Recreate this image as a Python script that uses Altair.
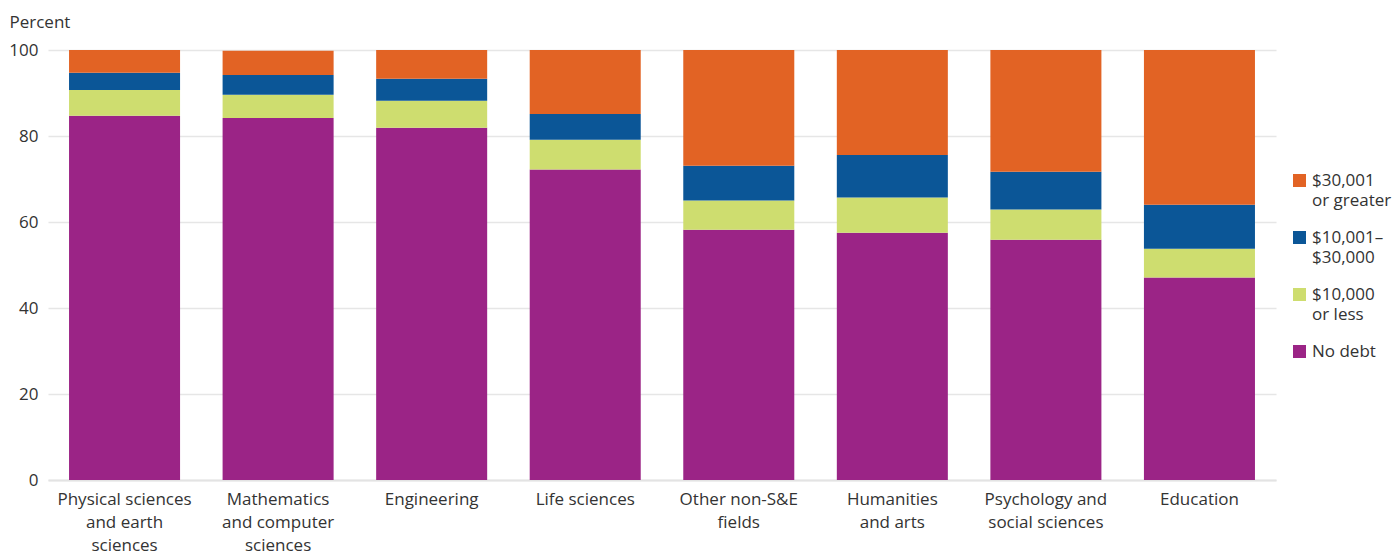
import altair as alt
import pandas as pd

# Fields of study (line breaks mark where the axis label wraps)
fields = [
    "Physical sciences\nand earth\nsciences",
    "Mathematics\nand computer\nsciences",
    "Engineering",
    "Life sciences",
    "Other non-S&E\nfields",
    "Humanities\nand arts",
    "Psychology and\nsocial sciences",
    "Education",
]

# Debt levels, listed as in the legend (top to bottom)
levels = ["$30,001\nor greater", "$10,001\u2013\n$30,000", "$10,000\nor less", "No debt"]
level_colors = ["#E26324", "#0B5697", "#CEDD6F", "#9B2486"]

# Percent of graduates in each debt level, per field
no_debt = [84.7, 84.2, 81.9, 72.2, 58.2, 57.5, 55.9, 47.1]
up_to_10k = [6.0, 5.4, 6.3, 6.9, 6.8, 8.2, 7.0, 6.7]
from_10k_to_30k = [4.0, 4.6, 5.1, 6.0, 8.1, 9.9, 8.8, 10.2]
over_30k = [5.3, 5.6, 6.7, 14.9, 26.9, 24.4, 28.3, 36.0]

series = [
    (levels[3], no_debt, 0),
    (levels[2], up_to_10k, 1),
    (levels[1], from_10k_to_30k, 2),
    (levels[0], over_30k, 3),
]

rows = []
for level, values, stack_rank in series:
    for field, value in zip(fields, values):
        rows.append({"field": field, "level": level, "pct": value, "rank": stack_rank})
df = pd.DataFrame(rows)

FONT = "Open Sans"
SIZE = 17
TEXT = "#333333"

chart = (
    alt.Chart(df)
    .mark_bar()
    .encode(
        x=alt.X(
            "field:N",
            sort=fields,
            scale=alt.Scale(paddingInner=0.277, paddingOuter=0.137),
            axis=alt.Axis(
                title=None,
                labelAngle=0,
                labelExpr="split(datum.label, '\\n')",
                labelFont=FONT,
                labelFontSize=SIZE,
                labelColor=TEXT,
                labelLineHeight=23,
                labelPadding=11,
                labelBaseline="top",
                ticks=False,
                domainColor="#e3e3e3",
                domainWidth=2,
                grid=False,
            ),
        ),
        y=alt.Y(
            "pct:Q",
            stack="zero",
            scale=alt.Scale(domain=[0, 100], nice=False),
            axis=alt.Axis(
                title="Percent",
                values=[0, 20, 40, 60, 80, 100],
                titleAngle=0,
                titleAlign="left",
                titleBaseline="alphabetic",
                titleX=-39,
                titleY=-23,
                titleFont=FONT,
                titleFontSize=SIZE,
                titleFontWeight="normal",
                titleColor=TEXT,
                labelFont=FONT,
                labelFontSize=SIZE,
                labelColor=TEXT,
                labelPadding=10,
                ticks=False,
                domain=False,
                gridColor="#e6e6e6",
                gridWidth=1.5,
            ),
        ),
        color=alt.Color(
            "level:N",
            scale=alt.Scale(domain=levels, range=level_colors),
            legend=alt.Legend(
                title=None,
                orient="none",
                legendX=1243,
                legendY=122,
                padding=0,
                gridAlign="all",
                symbolType="square",
                symbolSize=169,
                symbolStrokeWidth=0,
                symbolOpacity=1,
                labelExpr="split(datum.label, '\\n')",
                labelFont=FONT,
                labelFontSize=SIZE,
                labelColor=TEXT,
                labelBaseline="middle",
                labelOffset=4,
                labelLimit=200,
                rowPadding=19,
            ),
        ),
        order=alt.Order("rank:Q", sort="ascending"),
    )
    .properties(
        width=1228,
        height=430,
        padding={"left": 48, "top": 50, "right": 116, "bottom": 73},
        autosize=alt.AutoSizeParams(type="none"),
    )
    .configure(background="white", style={"guide-label": {"lineHeight": 20}})
    .configure_view(stroke=None, strokeWidth=0)
)

chart.save("out.html", embed_options={"renderer": "svg", "actions": False})
